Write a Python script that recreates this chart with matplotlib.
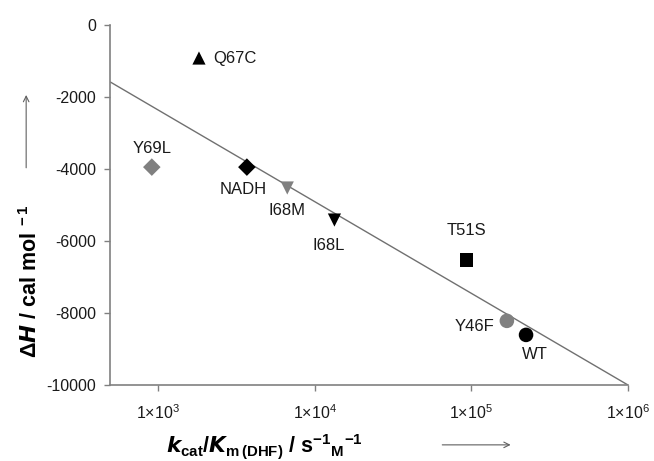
"""Delta H versus catalytic efficiency for DHFR variants, with linear fit."""

import matplotlib
matplotlib.use("Agg")
import matplotlib.pyplot as plt
import numpy as np

plt.rcParams["font.family"] = ["Liberation Sans", "DejaVu Sans"]
plt.rcParams["mathtext.fontset"] = "custom"
plt.rcParams["mathtext.rm"] = "Liberation Sans"
plt.rcParams["mathtext.it"] = "Liberation Sans:italic"
plt.rcParams["mathtext.bf"] = "Liberation Sans:bold"
plt.rcParams["axes.unicode_minus"] = False

variants = ["Q67C", "Y69L", "NADH", "I68M", "I68L", "T51S", "Y46F", "WT"]
kcat_km = [1830, 915, 3700, 6700, 13400, 93000, 169000, 224000]
delta_h = [-920, -3950, -3950, -4530, -5420, -6530, -8220, -8610]
markers = ["^", "D", "D", "v", "v", "s", "o", "o"]
colours = ["black", "#808080", "black", "#808080", "black", "black", "#808080", "black"]

# fitted line: dH = slope * log10(k) + intercept
fit_slope = -2547
fit_intercept = 5282
fit_range = [500, 1e6]

fig = plt.figure(figsize=(6.54, 4.61), dpi=100)
ax = fig.add_axes([0.168, 0.165, 0.792, 0.781])

xs = np.array(fit_range)
ax.plot(xs, fit_slope * np.log10(xs) + fit_intercept, color="#707070", lw=1.0, zorder=1)

sizes = {"^": 90, "D": 80, "v": 90, "s": 90, "o": 110}
for name, x, y, m, c in zip(variants, kcat_km, delta_h, markers, colours):
    ax.scatter(x, y, marker=m, s=sizes[m], color=c, edgecolors="none", zorder=3)

label_offsets = {
    "Q67C": (10, 0, "left", "center"),
    "Y69L": (0, 8, "center", "bottom"),
    "NADH": (-3, -11, "center", "top"),
    "I68M": (0, -11, "center", "top"),
    "I68L": (-4, -13, "center", "top"),
    "T51S": (0, 16, "center", "bottom"),
    "Y46F": (-9, -4, "right", "center"),
    "WT": (6, -9, "center", "top"),
}
for name, x, y in zip(variants, kcat_km, delta_h):
    dx, dy, ha, va = label_offsets[name]
    ax.annotate(name, (x, y), xytext=(dx, dy), textcoords="offset points",
                ha=ha, va=va, fontsize=12, color="#1a1a1a")

ax.set_xscale("log")
ax.set_xlim(494, 1e6)
ax.set_ylim(-10000, 0)
ax.set_yticks(np.arange(-10000, 1, 2000))
ax.set_xticks([1e3, 1e4, 1e5, 1e6])
ax.set_xticklabels([r"1$\times$10$^{3}$", r"1$\times$10$^{4}$",
                    r"1$\times$10$^{5}$", r"1$\times$10$^{6}$"])
ax.xaxis.set_minor_locator(matplotlib.ticker.NullLocator())

for side in ["top", "right"]:
    ax.spines[side].set_visible(False)
for side in ["left", "bottom"]:
    ax.spines[side].set_color("#808080")
    ax.spines[side].set_linewidth(1.2)
ax.tick_params(axis="both", colors="#808080", labelcolor="#1a1a1a", labelsize=11.5,
               length=4, width=1.0, direction="out")
ax.tick_params(axis="x", pad=9)
ax.tick_params(axis="y", pad=6)

fig.text(0.047, 0.39, r"$\mathbf{\Delta}\boldsymbol{H}$ $\mathbf{/\ cal\ mol^{\ -1}}$",
         rotation=90, ha="center", va="center", fontsize=15.5)
ax.annotate("", xy=(0.040, 0.80), xytext=(0.040, 0.63), xycoords="figure fraction",
            arrowprops=dict(arrowstyle="->", color="#606060", lw=0.8))

fig.text(0.405, 0.032,
         r"$\boldsymbol{k}_{\mathbf{cat}}\mathbf{/}\boldsymbol{K}_{\mathbf{m\,(DHF)}}\mathbf{\ /\ s^{-1}}_{\mathbf{M}}\mathbf{^{-1}}$",
         ha="center", va="center", fontsize=15.5)
ax.annotate("", xy=(0.785, 0.035), xytext=(0.672, 0.035), xycoords="figure fraction",
            arrowprops=dict(arrowstyle="->", color="#606060", lw=0.8))

fig.savefig("out.png", dpi=100)
